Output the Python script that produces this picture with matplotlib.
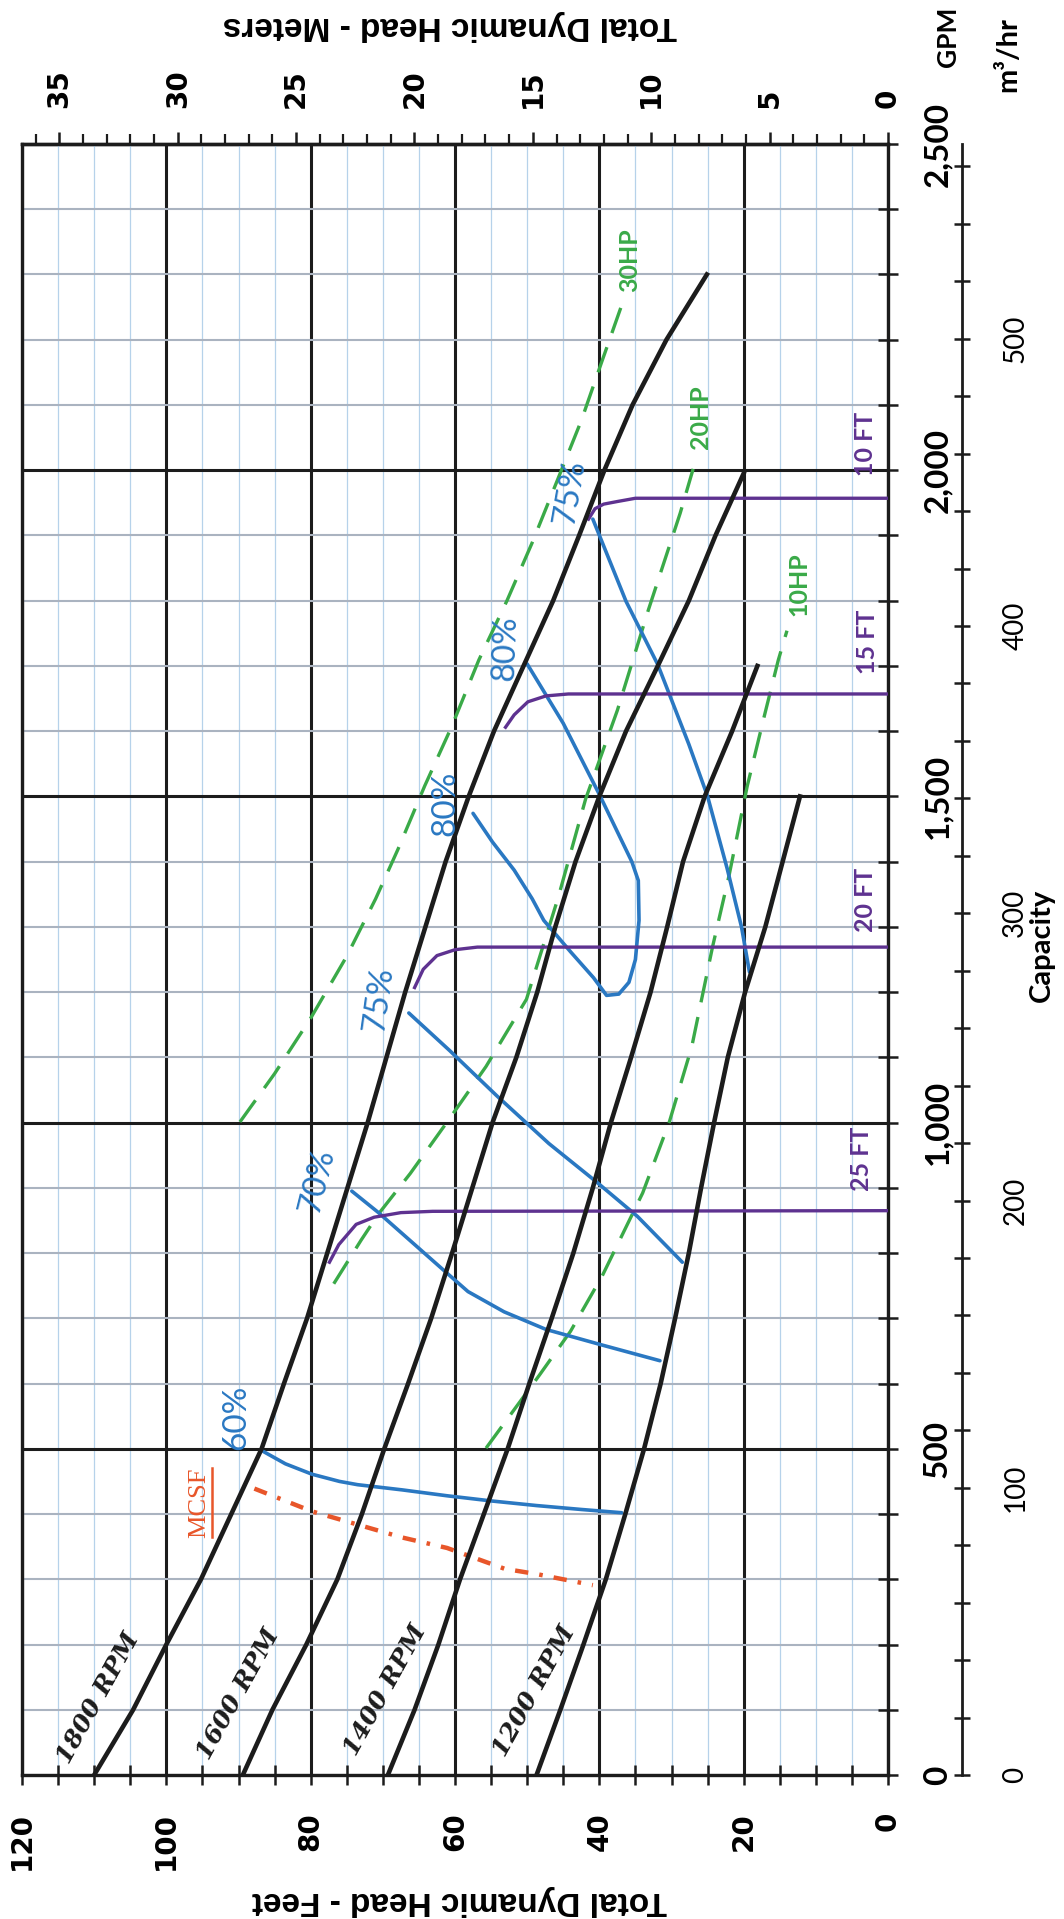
import matplotlib
matplotlib.use("Agg")
from matplotlib import pyplot as plt
from matplotlib.lines import Line2D
import numpy as np

# pump curves: capacity (GPM) vs total dynamic head (ft)
# the sheet is printed turned on its side, so head runs along x (120 -> 0)
# and capacity runs up the page

rpm_labels = ["1800 RPM", "1600 RPM", "1400 RPM", "1200 RPM"]
rpm_1800_gpm = [0, 100, 200, 300, 400, 500, 600, 700, 800, 900, 1000, 1100, 1200, 1300, 1400, 1500, 1600, 1700, 1800, 1900, 2000, 2100, 2200, 2300]
rpm_1800_head = [110, 104.6, 100, 95.2, 91, 86.8, 83.7, 80.5, 77.7, 74.9, 72.1, 69.5, 66.9, 64.1, 61.3, 58.1, 54.6, 50.5, 46.4, 42.8, 39.3, 35.4, 30.7, 25.1]
rpm_1600_gpm = [0, 100, 200, 300, 400, 500, 600, 700, 800, 900, 1000, 1100, 1200, 1300, 1400, 1500, 1600, 1700, 1800, 1900, 1995]
rpm_1600_head = [89.4, 85.3, 80.6, 76.3, 72.9, 69.8, 66.5, 63.3, 60.4, 57.6, 54.8, 51.5, 48.6, 46.1, 43.3, 40.0, 36.3, 31.9, 27.6, 23.9, 20.0]
rpm_1400_gpm = [0, 100, 200, 300, 400, 500, 600, 700, 800, 900, 1000, 1100, 1200, 1300, 1400, 1500, 1600, 1700]
rpm_1400_head = [69.3, 65.6, 62.3, 59.3, 56.0, 52.7, 49.7, 46.6, 43.6, 40.9, 38.4, 35.6, 32.9, 30.6, 28.4, 25.4, 21.6, 18.1]
rpm_1200_gpm = [0, 100, 200, 300, 400, 500, 600, 700, 800, 900, 1000, 1100, 1200, 1300, 1400, 1500]
rpm_1200_head = [48.7, 45.4, 42.2, 39.1, 36.4, 33.8, 31.5, 29.5, 27.6, 25.9, 24.1, 22.2, 19.8, 17.0, 14.6, 12.2]
rpm_label_pos = [(109.4, 118), (90.0, 124), (69.7, 130), (49.0, 128)]

# efficiency lines
eff60_head = [86.9, 83.5, 79.8, 76.0, 73.5, 67.3, 61.1, 54.9, 48.7, 42.5, 36.9]
eff60_gpm = [498, 477, 461, 450, 445, 437, 428, 420, 413, 407, 402]
eff70_head = [74.3, 70.6, 66.2, 61.6, 58.2, 53.2, 47.4, 39.6, 31.6]
eff70_gpm = [895, 862, 819, 774, 741, 710, 683, 659, 635]
eff75a_head = [66.4, 60.7, 54.2, 47.0, 40.5, 34.7, 28.5]
eff75a_gpm = [1168, 1110, 1041, 968, 910, 856, 786]
eff80_head = [57.5, 54.8, 51.8, 49.3, 47.7, 44.0, 40.8, 39.0, 37.3, 35.9, 35.0, 34.5, 34.6, 35.5, 36.9, 40.0, 45.0, 50.0]
eff80_gpm = [1474, 1430, 1387, 1343, 1310, 1262, 1222, 1195, 1197, 1215, 1250, 1310, 1371, 1400, 1432, 1503, 1612, 1703]
eff75b_head = [40.9, 36.3, 31.9, 27.6, 25.0, 22.3, 20.3, 19.2]
eff75b_gpm = [1925, 1799, 1702, 1580, 1500, 1390, 1300, 1231]
eff_labels = ["60%", "70%", "75%", "80%", "80%", "75%"]
eff_label_pos = [(90.3, 549), (79.1, 910), (70.6, 1189), (61.4, 1490), (53.0, 1728), (44.0, 1967)]
eff_label_rot = [90, 76, 82, 90, 88, 80]

# NPSH required lines
npsh_labels = ["10 FT", "15 FT", "20 FT", "25 FT"]
npsh10_head = [41.5, 40.6, 39.4, 37.5, 35.0, 0]
npsh10_gpm = [1925, 1941, 1948, 1952, 1957, 1957]
npsh15_head = [53.0, 51.8, 49.9, 47.4, 44.3, 0]
npsh15_gpm = [1606, 1625, 1645, 1654, 1657, 1657]
npsh20_head = [65.6, 64.4, 62.5, 60.0, 56.9, 0]
npsh20_gpm = [1207, 1235, 1256, 1265, 1269, 1269]
npsh25_head = [77.4, 76.1, 73.7, 71.2, 67.5, 63.1, 0]
npsh25_gpm = [786, 813, 844, 855, 862, 864, 865]
npsh_label_pos = [(3.1, 2040), (2.8, 1737), (3.1, 1342), (3.7, 945)]

# horsepower lines
hp_labels = ["30HP", "20HP", "10HP"]
hp30_head = [89.8, 85.0, 80.0, 75.0, 71.0, 67.9, 64.2, 60.5, 56.7, 52.8, 49.3, 45.8, 42.5, 39.7, 36.9]
hp30_gpm = [1001, 1075, 1160, 1255, 1343, 1419, 1516, 1606, 1709, 1800, 1889, 1985, 2076, 2165, 2253]
hp20_head = [76.8, 73.0, 70.6, 66.2, 60.7, 55.7, 50.1, 45.7, 41.9, 37.5, 33.2, 28.8, 27.0]
hp20_gpm = [753, 820, 860, 922, 1007, 1086, 1189, 1345, 1496, 1632, 1786, 1934, 2002]
hp10_head = [55.7, 48.3, 44.0, 39.6, 34.0, 30.3, 27.2, 24.3, 22.0, 19.5, 17.1, 15.2, 14.0]
hp10_gpm = [501, 613, 680, 765, 892, 1001, 1116, 1270, 1380, 1516, 1625, 1709, 1754]
hp_label_pos = [(35.8, 2322), (26.0, 2082), (12.4, 1826)]

# minimum continuous stable flow
mcsf_head = [87.8, 79.8, 72.3, 67.3, 61.1, 53.1, 48.7, 40.9]
mcsf_gpm = [439, 404, 380, 364, 348, 316, 308, 291]

# axes
head_ft_ticks = [0, 20, 40, 60, 80, 100, 120]
head_m_ticks = [0, 5, 10, 15, 20, 25, 30, 35]
gpm_ticks = [0, 500, 1000, 1500, 2000, 2500]
gpm_tick_labels = ["0", "500", "1,000", "1,500", "2,000", "2,500"]
m3_ticks = [0, 100, 200, 300, 400, 500]

GPM_PER_M3H = 4.4029
FT_PER_M = 3.28084

BLACK = "#1c1c1c"
BLUE = "#2a78c2"
PURPLE = "#5e3290"
GREEN = "#3aaa48"
ORANGE = "#e8562a"

fig = plt.figure(figsize=(10.64, 19.19), dpi=100)
ax = fig.add_axes([22 / 1064, 144 / 1919, 866 / 1064, 1631 / 1919])
ax.set_xlim(120, 0)
ax.set_ylim(0, 2500)
ax.set_axisbelow(True)

# grid
ax.set_xticks(head_ft_ticks, labels=[str(v) for v in head_ft_ticks], rotation=90,
              fontsize=20, fontweight="bold", fontfamily="DejaVu Sans", ha="center", va="top")
ax.set_xticks(np.arange(0, 121, 5), minor=True)
ax.set_yticks(gpm_ticks, labels=gpm_tick_labels, rotation=90,
              fontsize=24, fontweight="bold", fontfamily="Lato", ha="left", va="center")
ax.set_yticks(np.arange(0, 2501, 100), minor=True)
ax.grid(which="major", color=BLACK, lw=2.2)
ax.xaxis.grid(True, which="minor", color="#b6d2ea", lw=0.9)
ax.yaxis.grid(True, which="minor", color="#aab3c0", lw=1.5)
for s in ax.spines.values():
    s.set_linewidth(2.4)
    s.set_color(BLACK)

ax.tick_params(axis="x", which="both", direction="inout", length=14, width=1.8, color=BLACK,
               top=False, bottom=True, pad=19.5)
ax.tick_params(axis="y", which="both", direction="inout", length=14, width=1.8, color=BLACK,
               left=False, right=True, labelleft=False, labelright=True, pad=18)

# meters along the top
secx = ax.secondary_xaxis("top", functions=(lambda f: np.asarray(f) / FT_PER_M,
                                            lambda m: np.asarray(m) * FT_PER_M))
secx.set_xticks(head_m_ticks, labels=[str(v) for v in head_m_ticks], rotation=90,
                fontsize=20, fontweight="bold", fontfamily="DejaVu Sans", ha="center", va="bottom")
secx.set_xticks(np.arange(0, 37, 1), minor=True)
secx.tick_params(which="major", direction="out", length=9, width=1.8, color=BLACK, pad=17)
secx.tick_params(which="minor", direction="out", length=7, width=1.6, color=BLACK)
secx.spines["top"].set_linewidth(2.4)

# m3/hr scale next to the capacity scale
secy = ax.secondary_yaxis((962 - 22) / 866, functions=(lambda q: np.asarray(q) / GPM_PER_M3H,
                                                       lambda m: np.asarray(m) * GPM_PER_M3H))
secy.set_yticks(m3_ticks, labels=[str(v) for v in m3_ticks], rotation=90,
                fontsize=20, fontfamily="Lato", ha="left", va="center")
secy.set_yticks(np.arange(0, 561, 20), minor=True)
secy.tick_params(which="both", direction="inout", length=12, width=1.8, color=BLACK, pad=23)
for s in secy.spines.values():
    s.set_linewidth(2.0)
    s.set_color(BLACK)

# horsepower (dashed green)
for h, q in [(hp30_head, hp30_gpm), (hp20_head, hp20_gpm), (hp10_head, hp10_gpm)]:
    ax.plot(h, q, color=GREEN, lw=2.4, ls=(0, (8, 4.5)), zorder=3)
for lab, (h, q) in zip(hp_labels, hp_label_pos):
    ax.text(h, q, lab, rotation=90, ha="center", va="center", color=GREEN,
            fontsize=18, fontweight="bold", fontfamily="Lato", zorder=6)

# MCSF
ax.plot(mcsf_head, mcsf_gpm, color=ORANGE, lw=3.2, ls=(0, (3, 2.5, 0.8, 2.5)), zorder=4)
mcsf = ax.text(95.5, 418, "MCSF", rotation=90, ha="center", va="center", color=ORANGE,
               fontsize=19, fontfamily="Liberation Serif", zorder=6)

# efficiency (blue)
for h, q in [(eff60_head, eff60_gpm), (eff70_head, eff70_gpm), (eff75a_head, eff75a_gpm),
             (eff80_head, eff80_gpm), (eff75b_head, eff75b_gpm)]:
    ax.plot(h, q, color=BLUE, lw=2.6, zorder=4, solid_capstyle="round")
for lab, (h, q), r in zip(eff_labels, eff_label_pos, eff_label_rot):
    ax.text(h, q, lab, rotation=r, ha="center", va="center", color=BLUE,
            fontsize=24, fontfamily="Lato", zorder=6)

# NPSH (purple)
for h, q in [(npsh10_head, npsh10_gpm), (npsh15_head, npsh15_gpm),
             (npsh20_head, npsh20_gpm), (npsh25_head, npsh25_gpm)]:
    ax.plot(h, q, color=PURPLE, lw=2.4, zorder=4)
for lab, (h, q) in zip(npsh_labels, npsh_label_pos):
    ax.text(h, q, lab, rotation=90, ha="center", va="center", color=PURPLE,
            fontsize=18, fontweight="bold", fontfamily="Lato", zorder=6)

# speed curves (black)
for h, q in [(rpm_1800_head, rpm_1800_gpm), (rpm_1600_head, rpm_1600_gpm),
             (rpm_1400_head, rpm_1400_gpm), (rpm_1200_head, rpm_1200_gpm)]:
    ax.plot(h, q, color=BLACK, lw=3.3, zorder=5)
for lab, (h, q) in zip(rpm_labels, rpm_label_pos):
    ax.text(h, q, lab, rotation=61, ha="center", va="center", color=BLACK,
            fontsize=18, fontweight="bold", fontstyle="italic", fontfamily="DejaVu Serif", zorder=6)

# axis titles (page is turned, so these read upside down)
fig.text(450 / 1064, 1 - 25 / 1919, "Total Dynamic Head - Meters", rotation=180,
         ha="center", va="center", fontsize=24, fontweight="bold", fontfamily="Liberation Sans")
fig.text(459 / 1064, 1 - 1900 / 1919, "Total Dynamic Head - Feet", rotation=180,
         ha="center", va="center", fontsize=24, fontweight="bold", fontfamily="Liberation Sans")
fig.text(1042 / 1064, 1 - 945 / 1919, "Capacity", rotation=90, ha="center", va="center",
         fontsize=21, fontweight="bold", fontfamily="Lato")
fig.text(948 / 1064, 1 - 37 / 1919, "GPM", rotation=90, ha="center", va="center",
         fontsize=19, fontweight="bold", fontfamily="Lato")
fig.text(1008 / 1064, 1 - 55 / 1919, "m³/hr", rotation=90, ha="center", va="center",
         fontsize=21, fontweight="bold", fontfamily="Lato")

# underline MCSF (on the right since the text is turned)
fig.canvas.draw()
bb = mcsf.get_window_extent()
inv = fig.transFigure.inverted()
(x0, y0), (x1, y1) = inv.transform([(bb.x1 + 2, bb.y0 + 1), (bb.x1 + 2, bb.y1 - 1)])
fig.add_artist(Line2D([x0, x1], [y0, y1], transform=fig.transFigure, color=ORANGE, lw=1.8, zorder=7))

fig.savefig("out.png", dpi=100)
